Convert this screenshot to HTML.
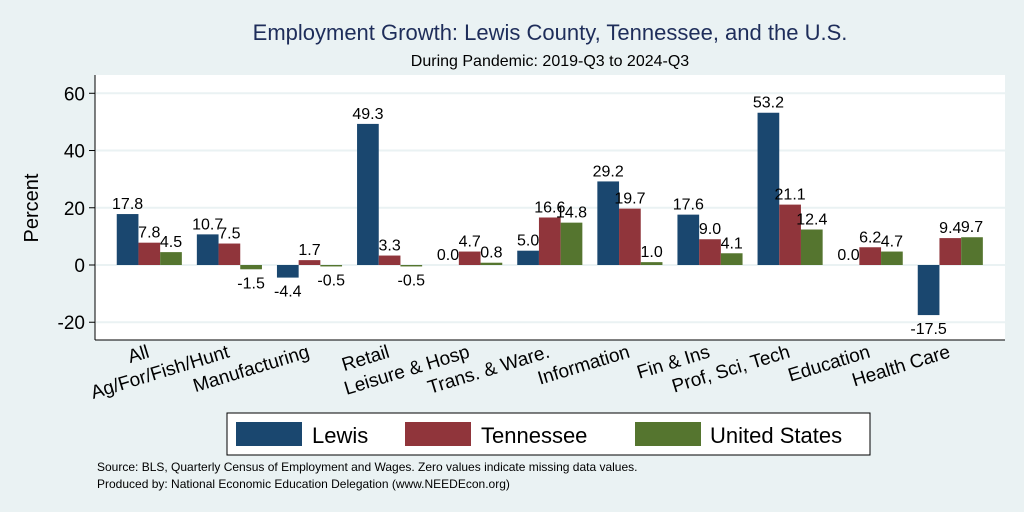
<!DOCTYPE html>
<html><head><meta charset="utf-8"><style>
body{margin:0;background:#eaf2f3;}
svg{display:block;font-family:"Liberation Sans",Arial,sans-serif;}
</style></head><body>
<svg id="c" width="1024" height="512">
<rect x="0" y="0" width="1024" height="512" fill="#eaf2f3"/>
<text x="550" y="40" text-anchor="middle" font-size="22" fill="#1e2d5a">Employment Growth: Lewis County, Tennessee, and the U.S.</text>
<text x="550" y="66" text-anchor="middle" font-size="16" fill="#000">During Pandemic: 2019-Q3 to 2024-Q3</text>
<rect x="95" y="75" width="910" height="265" fill="#fff"/>
<g id="grid"></g><g id="bars"></g><g id="vals"></g><g id="yt"></g><g id="xt"></g>
<line x1="95" y1="75" x2="95" y2="340" stroke="#000" stroke-width="1"/>
<line x1="95" y1="340" x2="1005" y2="340" stroke="#000" stroke-width="1"/>
<text transform="translate(38,208) rotate(-90)" text-anchor="middle" font-size="20">Percent</text>
<g>
<rect x="227" y="413" width="643" height="42" fill="#fff" stroke="#000" stroke-width="1"/>
<rect x="236" y="422" width="66" height="24" fill="#1a476f"/>
<text x="312" y="443" font-size="22">Lewis</text>
<rect x="405" y="422" width="66" height="24" fill="#90353b"/>
<text x="481" y="443" font-size="22">Tennessee</text>
<rect x="635" y="422" width="66" height="24" fill="#55752f"/>
<text x="710" y="443" font-size="22">United States</text>
</g>
<text x="97" y="471" font-size="12">Source: BLS, Quarterly Census of Employment and Wages. Zero values indicate missing data values.</text>
<text x="97" y="488" font-size="12">Produced by: National Economic Education Delegation (www.NEEDEcon.org)</text>
</svg>
<script>
const categories=["All","Ag/For/Fish/Hunt","Manufacturing","Retail","Leisure & Hosp","Trans. & Ware.","Information","Fin & Ins","Prof, Sci, Tech","Education","Health Care"];
const lewis=[17.8,10.7,-4.4,49.3,0.0,5.0,29.2,17.6,53.2,0.0,-17.5];
const tennessee=[7.8,7.5,1.7,3.3,4.7,16.6,19.7,9.0,21.1,6.2,9.4];
const unitedStates=[4.5,-1.5,-0.5,-0.5,0.8,14.8,1.0,4.1,12.4,4.7,9.7];
const yTicks=[-20,0,20,40,60];
const NS="http://www.w3.org/2000/svg";
function y(v){return 265-v*2.862;}
function gx(i){return 149.3+i*80.1;}
const bw=21.7;
function mk(t,a,p){const e=document.createElementNS(NS,t);for(const k in a)e.setAttribute(k,a[k]);document.getElementById(p).appendChild(e);return e;}
yTicks.forEach(t=>{
 const l=mk('line',{x1:96,x2:1005,y1:y(t),y2:y(t),stroke:'#eaf2f3','stroke-width':2},'grid');
 
 
 const k=mk('line',{x1:89,x2:95,y1:y(t),y2:y(t),stroke:'#000'},'yt');
 
 
 const tx=mk('text',{x:85,y:y(t)+7,'text-anchor':'end','font-size':19},'yt');
 tx.textContent=t;
 
 
});
const series=[[lewis,'#1a476f','lewis'],[tennessee,'#90353b','tennessee'],[unitedStates,'#55752f','us']];
categories.forEach((c,i)=>{
 series.forEach((s,j)=>{
  const v=s[0][i];const x=gx(i)-1.5*bw+j*bw;
  const top=Math.min(y(v),y(0)),h=Math.abs(y(v)-y(0));
  const r=mk('rect',{x:x,y:top,width:bw,height:h,fill:s[1]},'bars');
  
  
  const t=mk('text',{x:x+bw/2,y:v>=0?y(v)-5:y(v)+19,'text-anchor':'middle','font-size':16},'vals');
  t.textContent=v.toFixed(1);
  
  
 });
 const t=mk('text',{transform:'translate('+(gx(i)+1)+',357) rotate(-17)','text-anchor':'end','font-size':19},'xt');
 t.textContent=c;
 
 
});
</script>
</body></html>
